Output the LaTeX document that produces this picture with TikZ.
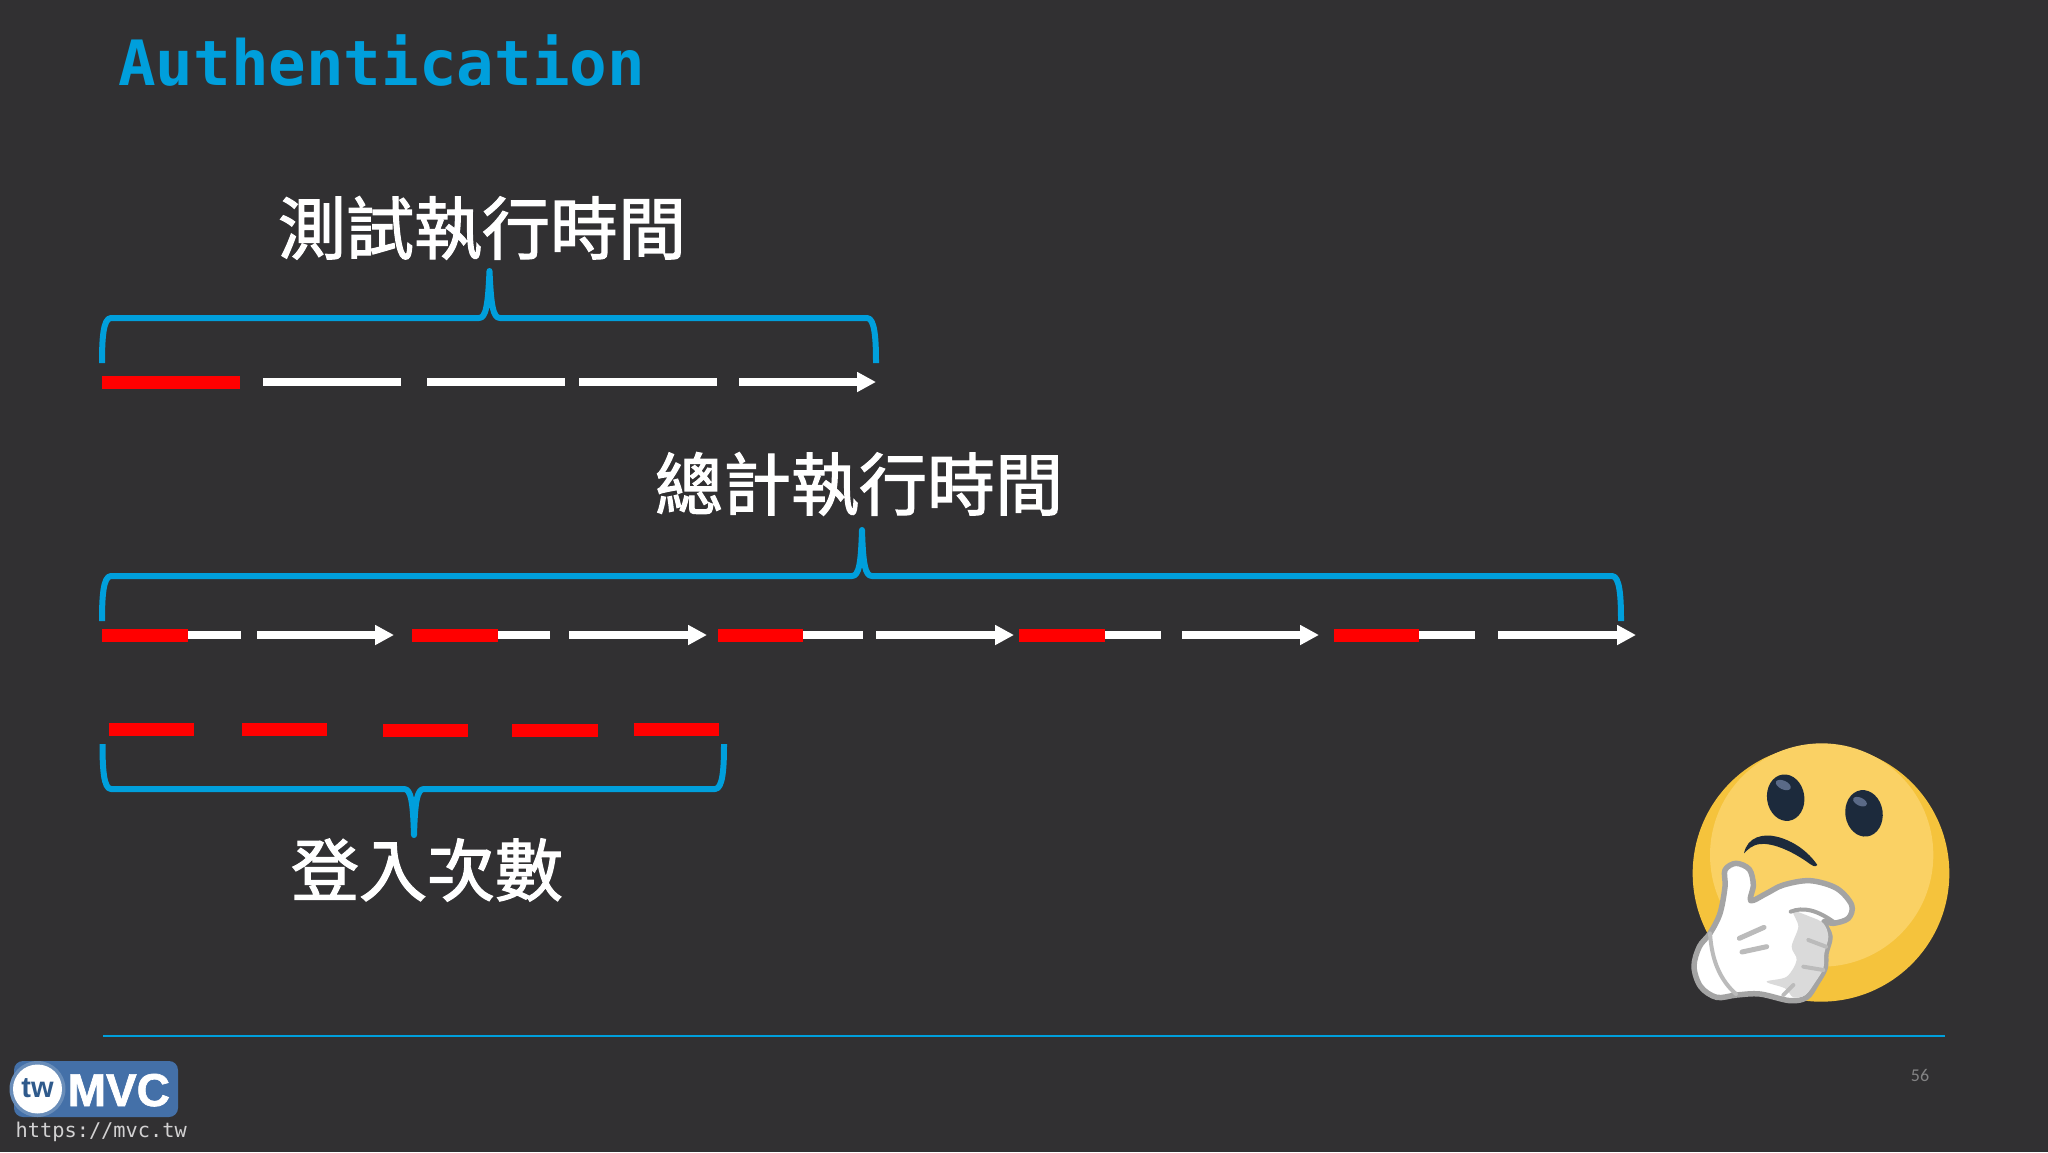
\documentclass[tikz,border=0pt]{standalone}
\usepackage{fontspec}
\setmainfont{Liberation Sans}
\newfontfamily\cjk[FakeBold=1.8]{Noto Sans CJK TC}
\newfontfamily\monof{DejaVu Sans Mono}
\newfontfamily\numf{Carlito}
\usetikzlibrary{arrows.meta}
\definecolor{bgc}{HTML}{313032}
\definecolor{bluec}{HTML}{009FDC}
\definecolor{redc}{HTML}{FF0000}
\definecolor{logob}{HTML}{4470A8}
\definecolor{logod}{HTML}{2F5A8C}
\definecolor{eyec}{HTML}{1C2A3C}
\definecolor{handl}{HTML}{A4A4A4}
\tikzset{
  seg/.style={draw=white,line width=7.5pt},
  segarrow/.style={seg,-{Triangle[length=19pt,width=19pt]}},
  redseg/.style={draw=redc,line width=13pt},
  bracec/.style={draw=bluec,line width=6pt,line join=round},
  cjklabel/.style={text=white,font=\cjk\fontsize{68}{70}\selectfont,inner sep=0pt},
}
\begin{document}
\begin{tikzpicture}[x=1pt,y=-1pt]
\fill[bgc] (0,0) rectangle (2048,1152);
\useasboundingbox (0,0) rectangle (2048,1152);
% title
\node[anchor=base west,inner sep=0pt,text=bluec,font=\monof\bfseries\fontsize{62.5}{64}\selectfont] (title) at (118,85) {Authentication};
% labels
\node[cjklabel] (l1) at (482,228) {測試執行時間};
\node[cjklabel] (l2) at (859,484) {總計執行時間};
\node[cjklabel] (l3) at (427,870) {登入次數};
% brace 1
\draw[bracec] (102,363) .. controls (102,340) and (103,318) .. (111,318) -- (479,318)
  .. controls (486,318) and (488,305) .. (489.5,271)
  .. controls (491,305) and (493,318) .. (500,318) -- (867,318)
  .. controls (875,318) and (876,340) .. (876,363);
% brace 2
\draw[bracec] (102,621) .. controls (102,598) and (103,576) .. (111,576) -- (852,576)
  .. controls (859,576) and (861,563) .. (862,530)
  .. controls (863,563) and (865,576) .. (872,576) -- (1612,576)
  .. controls (1620,576) and (1621,598) .. (1621,621);
% brace 3
\draw[bracec] (102.5,744) .. controls (102.5,767) and (103.5,789) .. (111,789) -- (404,789)
  .. controls (411,789) and (413,802) .. (414,835)
  .. controls (415,802) and (417,789) .. (424,789) -- (715,789)
  .. controls (723,789) and (724,767) .. (724,744);
% row 1
\draw[redseg] (102,382) -- (240,382);
\draw[seg] (263,382) -- (401,382);
\draw[seg] (427,382) -- (565,382);
\draw[seg] (579,382) -- (717,382);
\draw[segarrow] (739,382) -- (876,382);
% row 2
\draw[seg] (188,635) -- (241,635);
\draw[segarrow] (257,635) -- (394,635);
\draw[redseg] (102,635) -- (188,635);
\draw[seg] (498,635) -- (550,635);
\draw[segarrow] (569,635) -- (707,635);
\draw[redseg] (412,635) -- (498,635);
\draw[seg] (803,635) -- (863,635);
\draw[segarrow] (876,635) -- (1014,635);
\draw[redseg] (718,635) -- (803,635);
\draw[seg] (1105,635) -- (1161,635);
\draw[segarrow] (1182,635) -- (1319,635);
\draw[redseg] (1019,635) -- (1105,635);
\draw[seg] (1418,635) -- (1475,635);
\draw[segarrow] (1498,635) -- (1636,635);
\draw[redseg] (1334,635.5) -- (1419,635.5);
% row 3
\draw[redseg] (108.5,729.5) -- (194,729.5);
\draw[redseg] (242,729.5) -- (327,729.5);
\draw[redseg] (383,730) -- (468,730);
\draw[redseg] (512,730) -- (598,730);
\draw[redseg] (633.5,729.5) -- (719,729.5);
% footer rule
\draw[bluec,line width=2.2pt] (103,1036) -- (1945,1036);
\node[text=white!40!bgc,font=\numf\fontsize{18}{20}\selectfont,inner sep=0pt] (pg) at (1920,1075) {56};
% logo
\fill[logob,rounded corners=9pt] (14,1061) rectangle (178,1117);
\fill[logob!80!white] (37.5,1089) circle (28);
\fill[white] (37.5,1089) circle (24.5);
\node[text=logod,font=\bfseries\fontsize{29}{30}\selectfont,inner sep=0pt] (tw) at (37.5,1088) {tw};
\node[text=white,font=\bfseries\fontsize{46}{48}\selectfont,inner sep=0pt,anchor=base west] (mvc) at (67.5,1106) {\addfontfeature{FakeBold=1.5}MVC};
\node[text=white!78!bgc,font=\monof\fontsize{20.3}{22}\selectfont,inner sep=0pt,anchor=base west] (url) at (15.5,1137) {https://mvc.tw};
% emoji
\begin{scope}[shift={(1660,720)},x=1/3*1pt,y=-1/3*1pt]
  \fill[fill={rgb,255:red,245;green,195;blue,60}] (483,460) circle [radius=385];
  \fill[fill={rgb,255:red,250;green,209;blue,100}] (485,405) circle [radius=335];
  \fill[eyec,rotate around={8:(377,233)}] (377,233) circle [x radius=56,y radius=70];
  \fill[eyec,rotate around={8:(612,280)}] (612,280) circle [x radius=56,y radius=70];
  \fill[fill={rgb,255:red,90;green,106;blue,135},rotate around={-25:(370,195)}] (370,195) ellipse [x radius=24,y radius=13];
  \fill[fill={rgb,255:red,90;green,106;blue,135},rotate around={-25:(600,245)}] (600,245) ellipse [x radius=22,y radius=12];
  \fill[eyec] (252,400) .. controls (262,350) and (310,340) .. (350,350)
     .. controls (400,362) and (445,395) .. (472,435)
     .. controls (465,442) and (460,438) .. (450,432)
     .. controls (400,395) and (340,368) .. (300,372)
     .. controls (275,375) and (262,390) .. (252,400) -- cycle;
  % hand
  \draw[draw=handl,line width=5.5pt,fill=white,line join=round]
    plot[smooth cycle,tension=0.55] coordinates {
      (228,430) (268,448) (280,495) (272,542) (320,520) (370,495) (450,482) (530,505)
      (575,555) (565,595) (520,610) (492,605) (510,650) (498,700) (495,745) (470,790) (440,832)
      (390,842) (300,822) (230,825) (170,832) (122,800) (102,740) (118,680) (150,640)
      (180,580) (195,500) (195,450)};
  \fill[fill={rgb,255:red,218;green,218;blue,218}]
    plot[smooth cycle,tension=0.55] coordinates {
      (400,575) (450,590) (490,610) (505,650) (493,700) (490,745) (466,786) (436,825)
      (400,832) (375,805) (320,785) (380,770) (410,720) (395,680) (415,620)};
  \draw[draw=handl,line width=4pt,line cap=round] (392,575) .. controls (430,560) and (470,570) .. (520,605);
  \draw[draw=handl!75!white,line width=4pt,line cap=round] (150,640) .. controls (155,720) and (180,780) .. (228,822);
  \draw[draw=handl!75!white,line width=4pt,line cap=round] (445,660) -- (498,680);
  \draw[draw=handl!75!white,line width=4pt,line cap=round] (430,740) -- (490,750);
  \draw[draw=handl!75!white,line width=4pt,line cap=round] (370,825) -- (400,795);
  \draw[draw=handl!75!white,line width=5pt,line cap=round] (238,655) -- (312,622);
  \draw[draw=handl!75!white,line width=5pt,line cap=round] (246,696) -- (320,680);
\end{scope}
\end{tikzpicture}
\end{document}
